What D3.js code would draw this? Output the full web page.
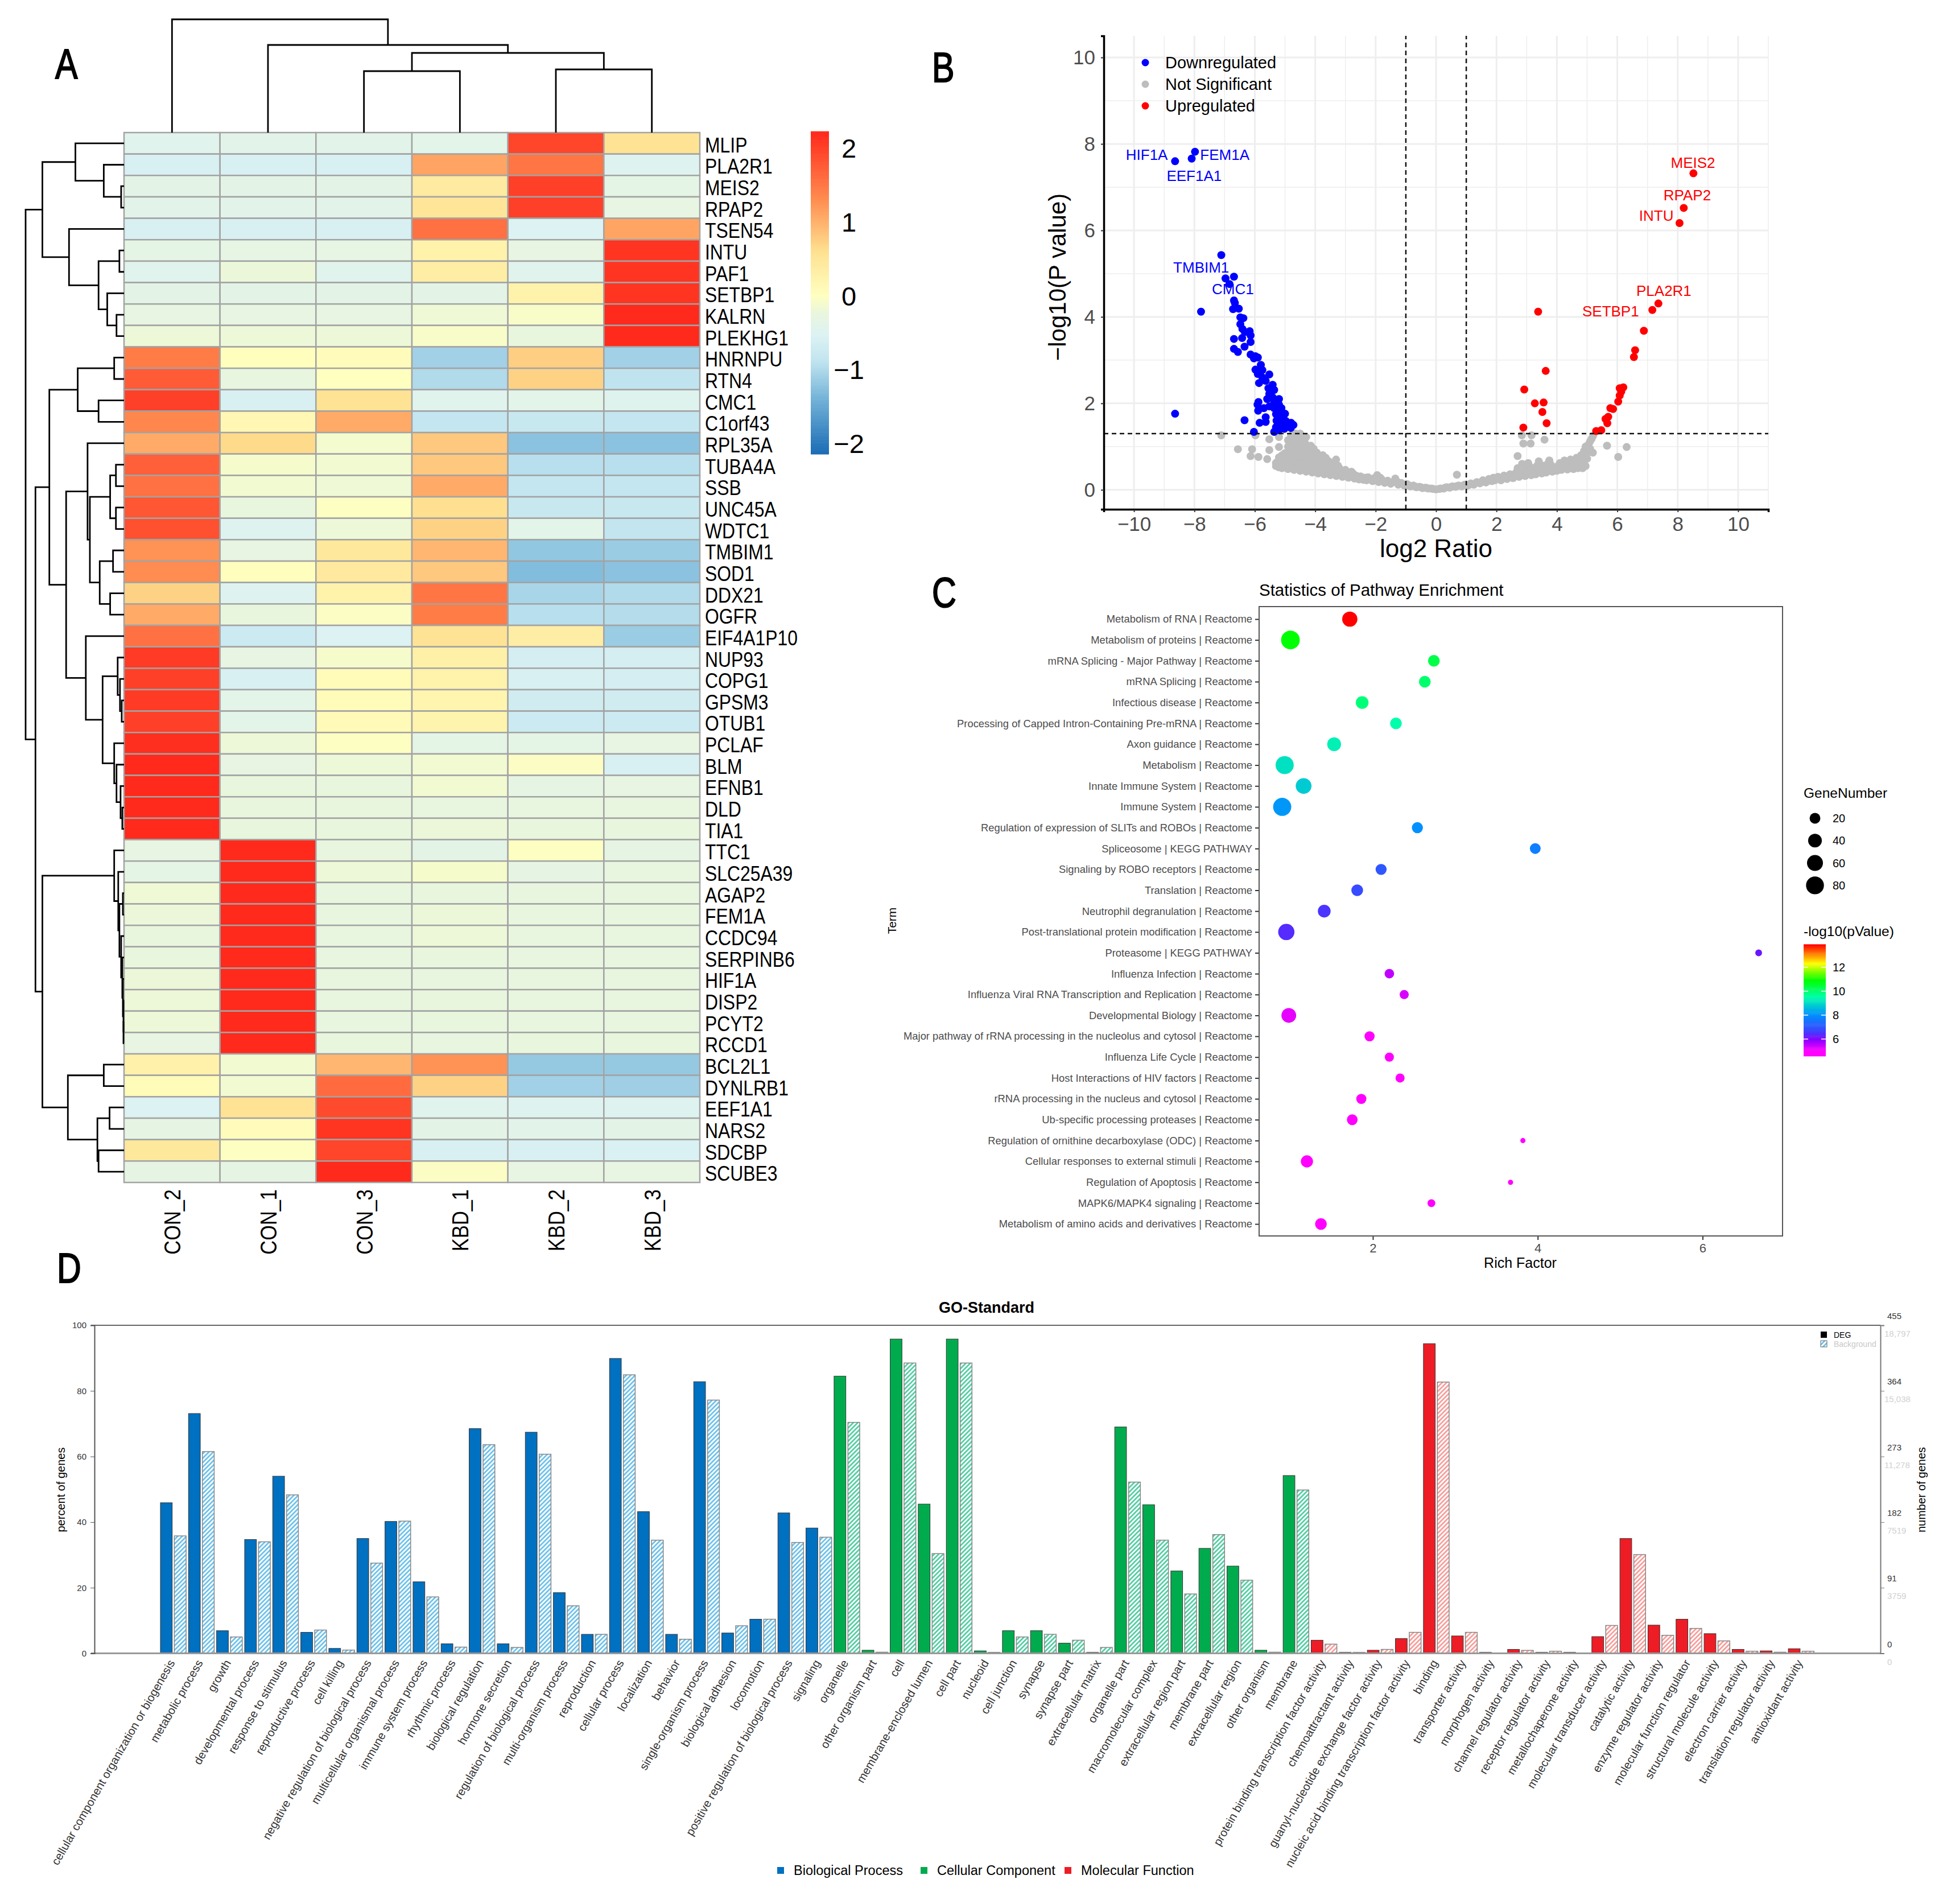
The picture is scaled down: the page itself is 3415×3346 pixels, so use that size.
<!DOCTYPE html>
<html>
<head>
<meta charset="utf-8">
<title>Multi-panel figure</title>
<script src="https://cdnjs.cloudflare.com/ajax/libs/d3/7.8.5/d3.min.js"></script>
<style>
  html, body { margin: 0; padding: 0; background: #fff; }
  text { font-family: "Liberation Sans", Arial, sans-serif; }
</style>
</head>
<body>
<svg id="fig" width="3415" height="3346" viewBox="0 0 3415 3346"></svg>
<script>
// ===== Panel A: heatmap =====
const sampleNames = ['CON_2', 'CON_1', 'CON_3', 'KBD_1', 'KBD_2', 'KBD_3'];
const geneNames = ['MLIP', 'PLA2R1', 'MEIS2', 'RPAP2', 'TSEN54', 'INTU', 'PAF1', 'SETBP1', 'KALRN', 'PLEKHG1',
  'HNRNPU', 'RTN4', 'CMC1', 'C1orf43', 'RPL35A', 'TUBA4A', 'SSB', 'UNC45A', 'WDTC1', 'TMBIM1', 'SOD1', 'DDX21',
  'OGFR', 'EIF4A1P10', 'NUP93', 'COPG1', 'GPSM3', 'OTUB1', 'PCLAF', 'BLM', 'EFNB1', 'DLD', 'TIA1', 'TTC1',
  'SLC25A39', 'AGAP2', 'FEM1A', 'CCDC94', 'SERPINB6', 'HIF1A', 'DISP2', 'PCYT2', 'RCCD1', 'BCL2L1', 'DYNLRB1',
  'EEF1A1', 'NARS2', 'SDCBP', 'SCUBE3'];
const heatValues = [
  [-.45, -.42, -.42, -.4, 1.95, .55], [-.6, -.6, -.6, 1.1, 1.5, -.5], [-.38, -.38, -.38, .4, 2, -.35],
  [-.42, -.42, -.42, .5, 2, -.3], [-.6, -.6, -.6, 1.55, -.55, 1.1], [-.35, -.33, -.33, .25, -.3, 2.1],
  [-.45, -.22, -.45, .35, -.45, 2.1], [-.38, -.38, -.38, -.38, .25, 2.1], [-.3, -.3, -.3, -.18, -.08, 2.2],
  [-.2, -.2, -.2, -.08, -.25, 2.2], [1.45, .02, .05, -1.1, .75, -1.1], [1.75, -.28, 0, -1, .72, -.9],
  [2, -.6, .55, -.45, -.4, -.48], [1.35, .15, 1.05, -.85, -.8, -.85], [1.05, .65, -.12, .8, -1.25, -1.25],
  [1.7, -.1, -.15, .8, -.95, -.95], [1.55, -.15, -.18, 1.05, -.85, -.85], [1.8, -.25, -.02, .6, -.8, -.8],
  [1.85, -.5, -.2, .72, -.4, -.88], [1.25, -.3, .45, .95, -1.2, -1.15], [1.3, .02, .42, .8, -1.3, -1.25],
  [.72, -.5, .25, 1.5, -1.05, -1], [1.05, -.25, -.05, 1.45, -.95, -.98], [1.55, -.75, -.55, .55, .35, -1.15],
  [2.05, -.3, -.1, .3, -.65, -.65], [2, -.6, .08, .25, -.6, -.65], [2.05, -.4, .08, .2, -.7, -.7],
  [2, -.4, .1, .22, -.75, -.75], [2.15, -.2, -.02, -.35, -.35, -.3], [2.2, -.3, -.2, -.15, -.05, -.6],
  [2.2, -.25, -.25, -.15, -.32, -.3], [2.2, -.25, -.25, -.28, -.28, -.28], [2.2, -.25, -.25, -.22, -.25, -.25],
  [-.3, 2.2, -.28, -.38, -.02, -.32], [-.35, 2.2, -.2, -.1, -.32, -.28], [-.18, 2.2, -.28, -.25, -.28, -.28],
  [-.22, 2.2, -.28, -.22, -.28, -.28], [-.25, 2.2, -.28, -.2, -.28, -.28], [-.25, 2.2, -.28, -.25, -.28, -.28],
  [-.22, 2.2, -.28, -.28, -.28, -.28], [-.2, 2.2, -.26, -.25, -.28, -.28], [-.2, 2.2, -.26, -.25, -.28, -.28],
  [-.3, 2.2, -.25, -.28, -.25, -.25], [.28, -.15, .95, 1.25, -1.18, -1.18], [.08, -.15, 1.6, .72, -1.1, -1.12],
  [-.55, .55, 1.9, -.45, -.5, -.5], [-.32, .05, 2.1, -.38, -.42, -.38], [.45, -.02, 1.95, -.6, -.6, -.58],
  [-.32, -.32, 2.2, -.05, -.3, -.3]
];
// dendrogram nodes: [height, childA, childB], a bare number is a leaf index
const colTree = [199, 0, [154, 1, [140, [108, 2, 3], [111, 4, 5]]]];
const rowTree = [170,
  [141,
    [84, 0, [35, 1, [5, 2, 3]]],
    [95, 4, [44, [8, 5, 6], [29, 7, [13, 8, 9]]]]],
  [153,
    [129,
      [80, [17, 10, 11], [44, 12, 13]],
      [100,
        [63, 14, [59, [24, [14, 15, 16], [14, 17, 18]], [42, [19, 19, 20], [24, 21, 22]]]],
        [66, 23, [37, [11, 24, [7, 25, [4, 26, 27]]], [17, 28, [13, 29, [6, 30, [3, 31, 32]]]]]]]],
    [141,
      [17, 33, [10, 34, [8, [2, 35, 36], [5, 37, [3, 38, [2, 39, [1, 40, [1, 41, 42]]]]]]]],
      [97, [35, 43, 44], [46, [25, 45, 46], [44, 47, 48]]]]]];
const heatStops = [-2.15, -1.4, -.9, -.55, -.25, 0, .6, 1.3, 2.2];
const heatStopColors = ['#1b6cb5', '#74b3d8', '#c0e4ef', '#dcf2f3', '#e9f6de', '#ffffbf', '#fee090', '#ff8c50', '#ff2a1c'];
const heatTicks = [-2, -1, 0, 1, 2];

// ===== Panel B: volcano =====
const downPoints = [[-8.64, 7.6], [-8.09, 7.66], [-7.98, 7.82], [-7.11, 5.43], [-6.69, 4.93], [-6.97, 4.89], [-6.84, 4.76],
  [-6.69, 4.38], [-6.66, 4.32], [-7.78, 4.12], [-6.72, 4.18], [-6.53, 4.19], [-6.48, 3.99], [-6.38, 3.97], [-6.48, 3.83],
  [-6.41, 3.72], [-6.17, 3.67], [-6.33, 3.65], [-6.14, 3.57], [-6.69, 3.49], [-6.42, 3.51], [-6.14, 3.42], [-6.34, 3.31],
  [-6.69, 3.26], [-6.56, 3.19], [-6.14, 3.13], [-5.98, 3.09], [-5.9, 3.06], [-6.03, 3.04], [-5.8, 2.89], [-5.98, 2.78],
  [-5.75, 2.77], [-5.9, 2.68], [-5.52, 2.67], [-5.75, 2.6], [-5.86, 2.47], [-5.41, 2.43], [-5.64, 2.52], [-5.55, 2.35],
  [-5.36, 2.31], [-5.52, 2.22], [-5.41, 2.14], [-5.59, 2.1], [-5.88, 2.03], [-5.2, 2.1], [-5.91, 1.97], [-5.36, 2.03],
  [-5.52, 1.93], [-5.2, 1.97], [-5.7, 1.89], [-5.36, 1.89], [-5.12, 1.89], [-5.89, 1.83], [-8.64, 1.76], [-5.2, 1.8],
  [-5, 1.76], [-5.3, 1.75], [-5.64, 1.68], [-6.34, 1.61], [-5.2, 1.68], [-5.05, 1.64], [-5.2, 1.55], [-4.97, 1.59],
  [-4.8, 1.55], [-5.12, 1.47], [-4.88, 1.47], [-4.72, 1.5], [-5.84, 1.55], [-5.64, 1.57], [-6.03, 1.34], [-5.36, 1.34],
  [-5.2, 1.38], [-5.02, 1.41], [-4.81, 1.43], [-5.3, 1.45], [-5.05, 1.52], [-5.28, 1.6]];
const upPoints = [[8.52, 7.32], [8.2, 6.52], [8.06, 6.17], [7.36, 4.31], [7.16, 4.16], [3.38, 4.12], [6.88, 3.68], [6.59, 3.23],
  [6.55, 3.07], [3.63, 2.75], [2.92, 2.32], [6.2, 2.37], [6.08, 2.35], [6.13, 2.27], [6.08, 2.18], [6.03, 2.04], [3.27, 2],
  [3.56, 2.02], [3.52, 1.8], [5.86, 1.87], [5.77, 1.89], [5.7, 1.69], [5.61, 1.64], [5.67, 1.54], [3.66, 1.54], [2.89, 1.44],
  [5.47, 1.38], [5.3, 1.36]];
const nsPoints = [[-7.11, 1.26], [-5.98, 1.26], [-6.56, .94], [-6.09, .94], [-6.14, .78], [-5.88, .76], [-5.59, .71], [-5.52, .92],
  [-5.52, 1.17], [-5.2, 1.22], [-5.2, .99], [-4.9, 1], [-3.31, .7], [.69, .35], [2.84, 1.26], [3.16, 1.26], [3.59, 1.16],
  [2.89, 1.07], [3.13, 1.07], [2.7, .78], [5.66, 1.02], [6.31, .99], [6.03, .76], [5.19, .86],
  [-5.3, .55], [-5.25, .65], [-5.2, .75], [-5.1, .5], [-5.05, .62], [-5, .72], [-5, .85], [-4.9, .48], [-4.85, .6], [-4.8, .72],
  [-4.8, .9], [-4.75, 1.05], [-4.7, 1.2], [-4.65, 1.3], [-4.7, .46], [-4.65, .58], [-4.6, .7], [-4.6, .85], [-4.55, 1],
  [-4.5, 1.15], [-4.5, 1.3], [-4.5, .44], [-4.45, .56], [-4.4, .68], [-4.4, .82], [-4.35, .97], [-4.35, 1.1], [-4.3, 1.22],
  [-4.3, .42], [-4.25, .54], [-4.2, .65], [-4.2, .78], [-4.15, .9], [-4.15, 1.02], [-4.1, .4], [-4.05, .52], [-4, .62],
  [-4, .74], [-3.95, .86], [-3.9, .38], [-3.85, .48], [-3.8, .58], [-3.8, .7], [-3.75, .8], [-3.7, .36], [-3.65, .46],
  [-3.6, .56], [-3.55, .66], [-3.5, .34], [-3.45, .44], [-3.4, .54], [-3.35, .62], [-3.3, .32], [-3.25, .42], [-3.2, .5],
  [-3.1, .3], [-3.05, .38], [-3, .46], [-2.9, .28], [-2.85, .36], [-2.8, .42], [-2.7, .26], [-2.65, .33], [-2.55, .24],
  [-2.5, .31], [-2.4, .23], [-2.3, .22], [-2.25, .29], [-2.1, .2], [-2.05, .27], [-1.95, .34], [-1.9, .18], [-1.8, .24],
  [-1.7, .16], [-1.6, .21], [-1.5, .14], [-1.4, .19], [-1.35, .26], [-1.25, .12], [-1.15, .16], [-1.05, .1], [-.95, .13],
  [-.85, .08], [-.75, .1], [-.65, .06], [-.55, .07], [-.45, .04], [-.35, .05], [-.25, .03], [-.1, .02], [0, .01], [.1, .02],
  [.25, .03], [.35, .06], [.45, .05], [.55, .08], [.65, .07], [.75, .1], [.85, .08], [.95, .12], [1.05, .1], [1.15, .15],
  [1.25, .12], [1.35, .18], [1.45, .15], [1.55, .22], [1.65, .17], [1.75, .25], [1.85, .2], [1.95, .22], [2.05, .3],
  [2.15, .22], [2.25, .33], [2.35, .25], [2.45, .36], [2.55, .27], [2.65, .4], [2.7, .5], [2.75, .3], [2.85, .42], [2.85, .6],
  [2.95, .32], [3, .48], [3.05, .62], [3.15, .34], [3.2, .5], [3.3, .36], [3.35, .56], [3.4, .66], [3.5, .38], [3.55, .5],
  [3.65, .4], [3.7, .6], [3.75, .68], [3.85, .42], [3.9, .52], [4, .44], [4.05, .56], [4.15, .46], [4.2, .58], [4.25, .68],
  [4.35, .47], [4.4, .6], [4.45, .7], [4.55, .48], [4.6, .62], [4.65, .74], [4.7, .5], [4.75, .66], [4.8, .8], [4.85, .5],
  [4.9, .62], [4.9, .9], [4.95, 1], [5, .72], [5, .85], [5.05, 1.05], [5.1, .95], [5.1, 1.12], [5.15, 1.18], [5.2, 1.25],
  [-5.3, .62], [-5.2, .52], [-5.15, .6], [-5.1, .7], [-5.1, .8], [-4.95, .55], [-4.95, .65], [-4.9, .78], [-4.9, 1.15],
  [-4.85, 1.05], [-4.85, .82], [-4.8, 1.25], [-4.8, .52], [-4.75, .65], [-4.75, .8], [-4.7, .92], [-4.7, 1.3], [-4.6, .5],
  [-4.6, 1], [-4.6, 1.15], [-4.55, .62], [-4.55, .78], [-4.5, .9], [-4.45, 1.05], [-4.45, 1.22], [-4.4, .5], [-4.35, .6],
  [-4.3, .75], [-4.3, .88], [-4.25, 1], [-4.2, .48], [-4.15, .6], [-4.1, .72], [-4.1, .84], [-4.05, .95], [-4, .46],
  [-3.95, .56], [-3.9, .68], [-3.9, .78], [-3.75, .44], [-3.75, .54], [-3.7, .64], [-3.65, .74], [-3.55, .42], [-3.5, .52],
  [-3.45, .6], [-3.35, .4], [-3.3, .48], [-3.25, .56], [-3.15, .36], [-3.15, .44], [-2.95, .34], [-2.95, .41], [-2.75, .32],
  [-2.75, .38], [-2.6, .29], [-2.45, .27], [-2.35, .28], [-2.2, .24], [-2, .22], [-1.85, .28], [-1.65, .19], [-1.45, .17],
  [-1.3, .2], [-1.1, .13], [-.9, .1], [-.7, .08], [-.5, .06], [-.3, .04], [-.15, .03], [.15, .03], [.3, .05], [.5, .07],
  [.7, .09], [.9, .1], [1.1, .12], [1.3, .15], [1.5, .18], [1.7, .2], [1.9, .28], [2.1, .26], [2.3, .28], [2.5, .32],
  [2.6, .34], [2.8, .36], [2.9, .38], [3.1, .4], [3.1, .54], [3.25, .42], [3.45, .44], [3.45, .58], [3.6, .45], [3.6, .56],
  [3.8, .46], [3.8, .58], [3.95, .48], [4.1, .5], [4.1, .62], [4.3, .52], [4.3, .62], [4.5, .54], [4.5, .66], [4.6, .54],
  [4.7, .58], [4.7, .7], [4.8, .58], [4.85, .72], [4.95, .55], [4.95, .8]];
const volcanoLabelText = ['HIF1A', 'FEM1A', 'EEF1A1', 'TMBIM1', 'CMC1', 'MEIS2', 'RPAP2', 'INTU', 'PLA2R1', 'SETBP1'];
const volcanoLabelX = [-10.27, -7.81, -8.92, -8.7, -7.42, 7.77, 7.53, 6.72, 6.63, 4.84];
const volcanoLabelY = [7.63, 7.63, 7.15, 5.03, 4.53, 7.45, 6.69, 6.22, 4.49, 4.01];
const volcanoLegend = ['Downregulated', 'Not Significant', 'Upregulated'];

// ===== Panel C: pathway bubbles =====
const termNames = ['Metabolism of RNA | Reactome', 'Metabolism of proteins | Reactome', 'mRNA Splicing - Major Pathway | Reactome',
  'mRNA Splicing | Reactome', 'Infectious disease | Reactome', 'Processing of Capped Intron-Containing Pre-mRNA | Reactome',
  'Axon guidance | Reactome', 'Metabolism | Reactome', 'Innate Immune System | Reactome', 'Immune System | Reactome',
  'Regulation of expression of SLITs and ROBOs | Reactome', 'Spliceosome | KEGG PATHWAY', 'Signaling by ROBO receptors | Reactome',
  'Translation | Reactome', 'Neutrophil degranulation | Reactome', 'Post-translational protein modification | Reactome',
  'Proteasome | KEGG PATHWAY', 'Influenza Infection | Reactome', 'Influenza Viral RNA Transcription and Replication | Reactome',
  'Developmental Biology | Reactome', 'Major pathway of rRNA processing in the nucleolus and cytosol | Reactome',
  'Influenza Life Cycle | Reactome', 'Host Interactions of HIV factors | Reactome', 'rRNA processing in the nucleus and cytosol | Reactome',
  'Ub-specific processing proteases | Reactome', 'Regulation of ornithine decarboxylase (ODC) | Reactome',
  'Cellular responses to external stimuli | Reactome', 'Regulation of Apoptosis | Reactome', 'MAPK6/MAPK4 signaling | Reactome',
  'Metabolism of amino acids and derivatives | Reactome'];
const richFactor = [1.72, 1, 2.74, 2.63, 1.87, 2.28, 1.53, .93, 1.16, .9, 2.54, 3.97, 2.1, 1.81, 1.41, .95, 6.68, 2.2, 2.38, .98,
  1.96, 2.2, 2.33, 1.86, 1.75, 3.82, 1.2, 3.67, 2.71, 1.37];
const geneNumber = [53, 89, 26, 26, 33, 26, 41, 83, 58, 83, 22, 20, 22, 26, 33, 63, 4, 14, 12, 49, 17, 12, 12, 17, 20, 1, 29, 1, 7, 26];
const logPValue = [13.9, 10.9, 10.3, 10, 9.9, 9.5, 9.3, 9.1, 8.8, 8.1, 8, 7.7, 7, 6.8, 6.5, 6.4, 6.2, 5.5, 5.3, 5.2, 5, 4.9, 4.9,
  4.9, 4.9, 4.9, 4.9, 4.9, 4.9, 4.9];
const rainbowStops = [13.9, 12.3, 10.9, 9.5, 8, 6.6, 6, 5];
const rainbowColors = ['#ff0000', '#ffff00', '#00ff00', '#00ffaa', '#0090ff', '#4040ff', '#8000ff', '#ff00ff'];
const geneLegendSizes = [20, 40, 60, 80];
const pValueTicks = [6, 8, 10, 12];

// ===== Panel D: GO bars =====
const goBiological = ['cellular component organization or biogenesis', 'metabolic process', 'growth', 'developmental process',
  'response to stimulus', 'reproductive process', 'cell killing', 'negative regulation of biological process',
  'multicellular organismal process', 'immune system process', 'rhythmic process', 'biological regulation', 'hormone secretion',
  'regulation of biological process', 'multi-organism process', 'reproduction', 'cellular process', 'localization', 'behavior',
  'single-organism process', 'biological adhesion', 'locomotion', 'positive regulation of biological process', 'signaling'];
const goCellular = ['organelle', 'other organism part', 'cell', 'membrane-enclosed lumen', 'cell part', 'nucleoid', 'cell junction',
  'synapse', 'synapse part', 'extracellular matrix', 'organelle part', 'macromolecular complex', 'extracellular region part',
  'membrane part', 'extracellular region', 'other organism', 'membrane'];
const goMolecular = ['protein binding transcription factor activity', 'chemoattractant activity',
  'guanyl-nucleotide exchange factor activity', 'nucleic acid binding transcription factor activity', 'binding', 'transporter activity',
  'morphogen activity', 'channel regulator activity', 'receptor regulator activity', 'metallochaperone activity',
  'molecular transducer activity', 'catalytic activity', 'enzyme regulator activity', 'molecular function regulator',
  'structural molecule activity', 'electron carrier activity', 'translation regulator activity', 'antioxidant activity'];
const degPercent = [45.9, 73.1, 6.9, 34.7, 54, 6.4, 1.5, 35, 40.2, 21.8, 2.9, 68.5, 2.9, 67.4, 18.5, 5.8, 89.9, 43.2, 5.8, 82.8, 6.2,
  10.4, 42.8, 38.2,
  84.5, .95, 95.8, 45.5, 95.8, .75, 6.9, 6.9, 3.1, .3, 69, 45.3, 25.1, 32, 26.6, .95, 54.2,
  4, .3, .95, 4.5, 94.4, 5.3, .3, 1.2, .3, .3, 5.1, 35, 8.6, 10.4, 6, 1.2, .75, 1.4];
const backgroundPercent = [35.8, 61.5, 5, 34, 48.3, 7.1, 1, 27.5, 40.3, 17.2, 1.9, 63.6, 1.8, 60.7, 14.5, 5.8, 84.9, 34.5, 4.3, 77.2, 8.4,
  10.4, 33.8, 35.4,
  70.4, .35, 88.5, 30.4, 88.5, .3, 5, 5.8, 4, 1.8, 52.2, 34.5, 18.1, 36.2, 22.3, .35, 49.8,
  2.8, .3, 1.2, 6.4, 82.7, 6.4, .1, .9, .65, .1, 8.5, 30.1, 5.5, 7.6, 3.8, .65, .35, .65];
const percentTicks = [0, 20, 40, 60, 80, 100];
const degCountLabels = ['0', '91', '182', '273', '364', '455'];
const backgroundCountLabels = ['0', '3759', '7519', '11,278', '15,038', '18,797'];
const goGroupNames = ['Biological Process', 'Cellular Component', 'Molecular Function'];
const goSolidColors = ['#0070c0', '#00ab4e', '#ee1c25'];
const goHatchColors = ['#6cc2ec', '#52cfa2', '#f89e9b'];

const svg = d3.select('#fig');
const defs = svg.append('defs');

// narrow/tall text is drawn with a horizontal squeeze like the source figure
function panelLetter(label, x, y) {
    svg.append('text')
        .attr('transform', `translate(${x},${y}) scale(.8,1)`)
        .attr('font-size', 74)
        .attr('fill', '#000')
        .attr('stroke', '#000')
        .attr('stroke-width', 2)
        .text(label);
}
panelLetter('A', 97, 138);
panelLetter('B', 1638, 144);
panelLetter('C', 1638, 1067);
panelLetter('D', 100, 2254);

// dendrogram: walk the nested nodes and collect one path per merge
function layoutTree(node, leafPos, heightPos, out) {
    if (typeof node === 'number') return { pos: leafPos(node), h: heightPos(0) };
    const a = layoutTree(node[1], leafPos, heightPos, out);
    const b = layoutTree(node[2], leafPos, heightPos, out);
    const h = heightPos(node[0]);
    out.push({ a, b, h });
    return { pos: (a.pos + b.pos) / 2, h };
}

function drawHeatmap() {
    const x = d3.scaleBand().domain(sampleNames).range([218, 1230]);
    const y = d3.scaleBand().domain(geneNames).range([233, 2078]);
    const color = d3.scaleLinear().domain(heatStops).range(heatStopColors).clamp(true);
    const g = svg.append('g').attr('class', 'heatmap');

    const cells = heatValues.flatMap((row, r) => row.map((v, c) => ({ gene: geneNames[r], sample: sampleNames[c], v })));
    g.selectAll('rect.cell')
        .data(cells)
        .enter()
        .append('rect')
        .attr('class', 'cell')
        .attr('x', d => x(d.sample))
        .attr('y', d => y(d.gene))
        .attr('width', x.bandwidth())
        .attr('height', y.bandwidth())
        .attr('fill', d => color(d.v))
        .attr('stroke', '#a3a3a3')
        .attr('stroke-width', 2.5);

    // gene names
    g.selectAll('text.gene')
        .data(geneNames)
        .enter()
        .append('text')
        .attr('class', 'gene')
        .attr('transform', d => `translate(1239,${y(d) + y.bandwidth() / 2 + 16}) scale(.85,1)`)
        .attr('font-size', 37.5)
        .attr('fill', '#000')
        .text(d => d);

    // sample names
    g.selectAll('text.sample')
        .data(sampleNames)
        .enter()
        .append('text')
        .attr('class', 'sample')
        .attr('transform', d => `translate(${x(d) + x.bandwidth() / 2 + 15},2090) rotate(-90) scale(.86,1)`)
        .attr('text-anchor', 'end')
        .attr('font-size', 40)
        .attr('fill', '#000')
        .text(d => d);

    // column dendrogram
    const colMerges = [];
    const colH = d3.scaleLinear().domain([0, 199]).range([233, 34]);
    layoutTree(colTree, i => x(sampleNames[i]) + x.bandwidth() / 2, colH, colMerges);
    g.selectAll('path.coltree')
        .data(colMerges)
        .enter()
        .append('path')
        .attr('class', 'coltree')
        .attr('d', d => `M${d.a.pos},${d.a.h}V${d.h}H${d.b.pos}V${d.b.h}`)
        .attr('fill', 'none')
        .attr('stroke', '#000')
        .attr('stroke-width', 2.8);

    // row dendrogram
    const rowMerges = [];
    const rowH = d3.scaleLinear().domain([0, 170]).range([218, 45]);
    layoutTree(rowTree, i => y(geneNames[i]) + y.bandwidth() / 2, rowH, rowMerges);
    g.selectAll('path.rowtree')
        .data(rowMerges)
        .enter()
        .append('path')
        .attr('class', 'rowtree')
        .attr('d', d => `M${d.a.h},${d.a.pos}H${d.h}V${d.b.pos}H${d.b.h}`)
        .attr('fill', 'none')
        .attr('stroke', '#000')
        .attr('stroke-width', 2.8);

    // colour bar
    const barY = d3.scaleLinear().domain([2.22, -2.15]).range([232, 798]);
    const steps = d3.range(-2.15, 2.22, 0.02);
    g.selectAll('rect.bar')
        .data(steps)
        .enter()
        .append('rect')
        .attr('class', 'bar')
        .attr('x', 1425)
        .attr('y', d => barY(d) - 2.6)
        .attr('width', 32)
        .attr('height', 3.2)
        .attr('fill', d => color(d));
    g.selectAll('text.barlabel')
        .data(heatTicks)
        .enter()
        .append('text')
        .attr('class', 'barlabel')
        .attr('x', 1492)
        .attr('y', d => barY(d) + 17)
        .attr('text-anchor', 'middle')
        .attr('font-size', 47)
        .text(d => d3.format('d')(d));
}

function drawVolcano() {
    const x = d3.scaleLinear().domain([-11, 11]).range([1940, 3108]);
    const y = d3.scaleLinear().domain([-0.45, 10.5]).range([895, 63]);
    const g = svg.append('g').attr('class', 'volcano');

    // grid: minor lines at odd values, major at even values
    const xGrid = d3.range(-11, 12);
    const yGrid = d3.range(0, 11);
    g.selectAll('line.gx')
        .data(xGrid)
        .enter()
        .append('line')
        .attr('class', 'gx')
        .attr('x1', d => x(d)).attr('x2', d => x(d))
        .attr('y1', y.range()[0]).attr('y2', y.range()[1])
        .attr('stroke', '#eeeeee')
        .attr('stroke-width', d => d % 2 === 0 ? 3 : 1.5);
    g.selectAll('line.gy')
        .data(yGrid)
        .enter()
        .append('line')
        .attr('class', 'gy')
        .attr('x1', x.range()[0]).attr('x2', x.range()[1])
        .attr('y1', d => y(d)).attr('y2', d => y(d))
        .attr('stroke', '#eeeeee')
        .attr('stroke-width', d => d % 2 === 0 ? 3 : 1.5);

    // points
    const series = [[nsPoints, '#bdbdbd'], [downPoints, '#0000ff'], [upPoints, '#ff0000']];
    series.forEach(([points, fill]) => {
        g.append('g').selectAll('circle')
            .data(points)
            .enter()
            .append('circle')
            .attr('cx', d => x(d[0]))
            .attr('cy', d => y(d[1]))
            .attr('r', 7)
            .attr('fill', fill);
    });

    // threshold lines
    [-1, 1].forEach(v => {
        g.append('line')
            .attr('x1', x(v)).attr('x2', x(v))
            .attr('y1', y.range()[0]).attr('y2', y.range()[1])
            .attr('stroke', '#111').attr('stroke-width', 2.5).attr('stroke-dasharray', '8 6');
    });
    g.append('line')
        .attr('x1', x.range()[0]).attr('x2', x.range()[1])
        .attr('y1', y(1.3)).attr('y2', y(1.3))
        .attr('stroke', '#111').attr('stroke-width', 2.5).attr('stroke-dasharray', '8 6');

    // axes
    const xAxis = g.append('g').attr('transform', `translate(0,${y.range()[0]})`)
        .call(d3.axisBottom(x).tickValues(d3.range(-10, 11, 2)).tickSize(5).tickPadding(8));
    const yAxis = g.append('g').attr('transform', `translate(${x.range()[0]},0)`)
        .call(d3.axisLeft(y).tickValues(d3.range(0, 11, 2)).tickSize(5).tickPadding(10));
    [xAxis, yAxis].forEach(a => {
        a.select('.domain').attr('stroke', '#000').attr('stroke-width', 3.5);
        a.selectAll('.tick line').attr('stroke', '#333').attr('stroke-width', 2);
        a.selectAll('.tick text').attr('font-size', 35).attr('fill', '#4d4d4d');
    });
    g.append('text')
        .attr('x', x(0)).attr('y', 979)
        .attr('text-anchor', 'middle').attr('font-size', 44)
        .text('log2 Ratio');
    g.append('text')
        .attr('transform', `translate(1873,487) rotate(-90)`)
        .attr('text-anchor', 'middle').attr('font-size', 42)
        .text('\u2212log10(P value)');

    // gene labels
    g.selectAll('text.vlabel')
        .data(volcanoLabelText)
        .enter()
        .append('text')
        .attr('class', 'vlabel')
        .attr('x', (d, i) => x(volcanoLabelX[i]))
        .attr('y', (d, i) => y(volcanoLabelY[i]))
        .attr('font-size', 26)
        .attr('fill', (d, i) => i < 5 ? '#0000ff' : '#ff0000')
        .text(d => d);

    // legend
    const legendColors = ['#0000ff', '#bdbdbd', '#ff0000'];
    const legend = g.selectAll('g.vlegend')
        .data(volcanoLegend)
        .enter()
        .append('g')
        .attr('class', 'vlegend')
        .attr('transform', (d, i) => `translate(2013,${110 + i * 38})`);
    legend.append('circle').attr('r', 6.5).attr('fill', (d, i) => legendColors[i]);
    legend.append('text').attr('x', 35).attr('y', 10).attr('font-size', 29).text(d => d);
}

function drawBubbles() {
    const x = d3.scaleLinear().domain([0.62, 6.97]).range([2213, 3133]);
    const y = d3.scalePoint().domain(termNames).range([1088, 2151]);
    const size = d3.scaleSqrt().domain([-5, 80]).range([0, 15.7]);
    const color = d3.scaleLinear().domain(rainbowStops).range(rainbowColors).clamp(true);
    const g = svg.append('g').attr('class', 'bubbles');

    // axes
    const xAxis = g.append('g').attr('transform', 'translate(0,2172)')
        .call(d3.axisBottom(x).tickValues([2, 4, 6]).tickFormat(d3.format('d')).tickSize(7).tickPadding(6));
    const yAxis = g.append('g').attr('transform', 'translate(2213,0)')
        .call(d3.axisLeft(y).tickSize(7).tickPadding(5));
    [xAxis, yAxis].forEach(a => {
        a.select('.domain').remove();
        a.selectAll('.tick line').attr('stroke', '#333').attr('stroke-width', 2);
    });
    xAxis.selectAll('.tick text').attr('font-size', 22).attr('fill', '#4d4d4d');
    yAxis.selectAll('.tick text').attr('font-size', 18.4).attr('fill', '#4d4d4d');

    g.append('rect')
        .attr('x', 2213).attr('y', 1066).attr('width', 920).attr('height', 1106)
        .attr('fill', 'none').attr('stroke', '#555').attr('stroke-width', 2);

    // bubbles
    g.selectAll('circle.term')
        .data(termNames)
        .enter()
        .append('circle')
        .attr('class', 'term')
        .attr('cx', (d, i) => x(richFactor[i]))
        .attr('cy', d => y(d))
        .attr('r', (d, i) => size(geneNumber[i]))
        .attr('fill', (d, i) => color(logPValue[i]));

    // titles
    g.append('text').attr('x', 2213).attr('y', 1047).attr('font-size', 29.5).text('Statistics of Pathway Enrichment');
    g.append('text').attr('x', 2672).attr('y', 2228).attr('text-anchor', 'middle').attr('font-size', 25).text('Rich Factor');
    g.append('text').attr('transform', 'translate(1575,1618) rotate(-90)').attr('text-anchor', 'middle').attr('font-size', 21).text('Term');

    // size legend
    g.append('text').attr('x', 3170).attr('y', 1402).attr('font-size', 24.5).text('GeneNumber');
    const sizeKey = g.selectAll('g.sizekey')
        .data(geneLegendSizes)
        .enter()
        .append('g')
        .attr('class', 'sizekey')
        .attr('transform', (d, i) => `translate(3190,${1438 + i * 39.3})`);
    sizeKey.append('circle').attr('r', d => size(d)).attr('fill', '#000');
    sizeKey.append('text').attr('x', 31).attr('y', 7).attr('font-size', 20).text(d => d);

    // colour legend
    g.append('text').attr('x', 3170).attr('y', 1645).attr('font-size', 24.5).text('-log10(pValue)');
    const barY = d3.scaleLinear().domain([13.9, 4.57]).range([1660, 1856]);
    g.selectAll('rect.pbar')
        .data(d3.range(4.57, 13.9, 0.05))
        .enter()
        .append('rect')
        .attr('class', 'pbar')
        .attr('x', 3170)
        .attr('y', d => barY(d) - 1.2)
        .attr('width', 39)
        .attr('height', 1.6)
        .attr('fill', d => color(d));
    const barTicks = g.selectAll('g.ptick')
        .data(pValueTicks)
        .enter()
        .append('g')
        .attr('class', 'ptick')
        .attr('transform', d => `translate(3170,${barY(d)})`);
    barTicks.append('line').attr('x2', 8).attr('stroke', '#fff').attr('stroke-width', 1.5);
    barTicks.append('line').attr('x1', 31).attr('x2', 39).attr('stroke', '#fff').attr('stroke-width', 1.5);
    barTicks.append('text').attr('x', 51).attr('y', 7).attr('font-size', 20).text(d => d);
}

function drawGoBars() {
    const goNames = goBiological.concat(goCellular, goMolecular);
    const groupOf = i => i < goBiological.length ? 0 : i < goBiological.length + goCellular.length ? 1 : 2;
    const x = d3.scaleBand().domain(goNames).range([278, 278 + 59 * 49.33]);
    const y = d3.scaleLinear().domain([0, 100]).range([2905.5, 2329]);
    const barW = 20.7;
    const g = svg.append('g').attr('class', 'go');

    // hatch fill for the background bars
    goHatchColors.forEach((c, i) => {
        const p = defs.append('pattern')
            .attr('id', `hatch-${i}`)
            .attr('width', 5.5).attr('height', 5.5)
            .attr('patternUnits', 'userSpaceOnUse')
            .attr('patternTransform', 'rotate(45)');
        p.append('rect').attr('width', 5.5).attr('height', 5.5).attr('fill', '#fff');
        p.append('line').attr('x1', 0).attr('x2', 0).attr('y1', 0).attr('y2', 5.5)
            .attr('stroke', c).attr('stroke-width', 5.5);
    });

    // frame
    g.append('line').attr('x1', 160).attr('x2', 3305).attr('y1', y(100)).attr('y2', y(100)).attr('stroke', '#666').attr('stroke-width', 2);

    // bars
    g.selectAll('rect.bg')
        .data(goNames)
        .enter()
        .append('rect')
        .attr('class', 'bg')
        .attr('x', d => x(d) + 28.4)
        .attr('width', barW)
        .attr('y', (d, i) => y(backgroundPercent[i]))
        .attr('height', (d, i) => y(0) - y(backgroundPercent[i]))
        .attr('fill', (d, i) => `url(#hatch-${groupOf(i)})`)
        .attr('stroke', '#888')
        .attr('stroke-width', 1.5);
    g.selectAll('rect.deg')
        .data(goNames)
        .enter()
        .append('rect')
        .attr('class', 'deg')
        .attr('x', d => x(d) + 4)
        .attr('width', barW)
        .attr('y', (d, i) => y(degPercent[i]))
        .attr('height', (d, i) => y(0) - y(degPercent[i]))
        .attr('fill', (d, i) => goSolidColors[groupOf(i)])
        .attr('stroke', '#333')
        .attr('stroke-width', 1);

    g.append('line').attr('x1', 160).attr('x2', 3305).attr('y1', y(0)).attr('y2', y(0)).attr('stroke', '#999').attr('stroke-width', 3);

    // left axis
    const left = g.append('g').attr('transform', 'translate(166,0)')
        .call(d3.axisLeft(y).tickValues(percentTicks).tickSize(7).tickPadding(7));
    left.select('.domain').attr('stroke', '#555').attr('stroke-width', 2);
    left.selectAll('.tick line').attr('stroke', '#555');
    left.selectAll('.tick text').attr('font-size', 15).attr('fill', '#333');

    // right axis, DEG counts above the tick and background counts below
    const right = g.append('g').attr('transform', 'translate(3305,0)')
        .call(d3.axisRight(y).tickValues(percentTicks).tickSize(7).tickFormat(''));
    right.select('.domain').attr('stroke', '#777').attr('stroke-width', 2);
    right.selectAll('.tick line').attr('stroke', '#777');
    g.selectAll('text.degcount')
        .data(degCountLabels)
        .enter()
        .append('text')
        .attr('class', 'degcount')
        .attr('x', 3317)
        .attr('y', (d, i) => y(percentTicks[i]) - 11)
        .attr('font-size', 15)
        .attr('fill', '#333')
        .text(d => d);
    g.selectAll('text.bgcount')
        .data(backgroundCountLabels)
        .enter()
        .append('text')
        .attr('class', 'bgcount')
        .attr('x', (d, i) => i < 3 ? 3317 : 3312)
        .attr('y', (d, i) => y(percentTicks[i]) + 20)
        .attr('font-size', 15)
        .attr('fill', '#d0d0d0')
        .text(d => d);

    // category names
    g.selectAll('text.goname')
        .data(goNames)
        .enter()
        .append('text')
        .attr('class', 'goname')
        .attr('transform', d => `translate(${x(d) + 30},2922) rotate(-60)`)
        .attr('text-anchor', 'end')
        .attr('font-size', 20.3)
        .attr('fill', '#333')
        .text(d => d);

    // titles
    g.append('text').attr('x', 1734).attr('y', 2307).attr('text-anchor', 'middle').attr('font-size', 27).attr('font-weight', 'bold').text('GO-Standard');
    g.append('text').attr('transform', 'translate(114,2618) rotate(-90)').attr('text-anchor', 'middle').attr('font-size', 20).text('percent of genes');
    g.append('text').attr('transform', 'translate(3384,2618) rotate(-90)').attr('text-anchor', 'middle').attr('font-size', 20).text('number of genes');

    // DEG / Background key
    g.append('rect').attr('x', 3200).attr('y', 2340).attr('width', 11).attr('height', 11).attr('fill', '#000');
    g.append('text').attr('x', 3223).attr('y', 2351).attr('font-size', 14).text('DEG');
    g.append('rect').attr('x', 3200).attr('y', 2356).attr('width', 11).attr('height', 11).attr('fill', 'url(#hatch-0)').attr('stroke', '#666');
    g.append('text').attr('x', 3223).attr('y', 2367).attr('font-size', 14).attr('fill', '#c8c8c8').text('Background');

    // bottom key
    const keyX = [1372, 1624, 1877];
    const key = g.selectAll('g.gokey')
        .data(goGroupNames)
        .enter()
        .append('g')
        .attr('class', 'gokey')
        .attr('transform', (d, i) => `translate(${keyX[i]},3287)`);
    key.append('rect').attr('x', -6).attr('y', -6).attr('width', 12).attr('height', 12).attr('fill', (d, i) => goSolidColors[i]);
    key.append('text').attr('x', 23).attr('y', 8).attr('font-size', 23.5).text(d => d);
}

drawHeatmap();
drawVolcano();
drawBubbles();
drawGoBars();
</script>
</body>
</html>
